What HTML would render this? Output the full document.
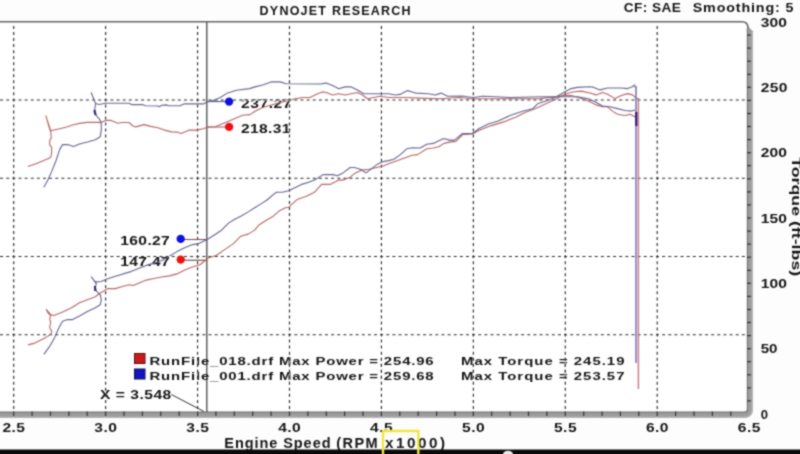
<!DOCTYPE html>
<html><head><meta charset="utf-8"><style>
html,body{margin:0;padding:0;background:#fff;}
body{width:800px;height:454px;overflow:hidden;position:relative;}
svg{position:absolute;left:0;top:0;}
</style></head><body>
<svg width="800" height="454" viewBox="0 0 800 454">
<defs><filter id="bl" x="0" y="0" width="800" height="454" filterUnits="userSpaceOnUse" color-interpolation-filters="sRGB"><feConvolveMatrix order="3" kernelMatrix="1 2 1 2 8 2 1 2 1" divisor="20" edgeMode="duplicate"/></filter></defs>
<g filter="url(#bl)">
<rect x="0" y="0" width="800" height="454" fill="#fdfdfd"/>
<rect x="0" y="22" width="747" height="390" fill="#ffffff"/>
<g stroke="#2a2a2a" stroke-width="1.15" fill="none">
<line x1="13.70" y1="26.03" x2="13.70" y2="411" stroke-dasharray="3,3.03"/><line x1="105.63" y1="26.03" x2="105.63" y2="411" stroke-dasharray="3,3.03"/><line x1="197.56" y1="26.03" x2="197.56" y2="411" stroke-dasharray="3,3.03"/><line x1="289.49" y1="26.03" x2="289.49" y2="411" stroke-dasharray="3,3.03"/><line x1="381.42" y1="26.03" x2="381.42" y2="411" stroke-dasharray="3,3.03"/><line x1="473.35" y1="26.03" x2="473.35" y2="411" stroke-dasharray="3,3.03"/><line x1="565.28" y1="26.03" x2="565.28" y2="411" stroke-dasharray="3,3.03"/><line x1="657.21" y1="26.03" x2="657.21" y2="411" stroke-dasharray="3,3.03"/><line x1="0.1" y1="100.04" x2="747" y2="100.04" stroke-dasharray="3,3.13"/><line x1="0.1" y1="178.28" x2="747" y2="178.28" stroke-dasharray="3,3.13"/><line x1="0.1" y1="256.52" x2="747" y2="256.52" stroke-dasharray="3,3.13"/><line x1="0.1" y1="334.76" x2="747" y2="334.76" stroke-dasharray="3,3.13"/>
</g>
<!-- axis frame -->
<path d="M750,31 L750,408 Q750,415 743,415 L0,415" fill="none" stroke="#9c9c9c" stroke-width="6"/>
<polygon points="747,27 748.6,27 753,31.5 753,32 747,32" fill="#9c9c9c"/>
<path d="M752.2,32 L752.2,409 Q752.2,417.2 744,417.2 L0,417.2" fill="none" stroke="#b2b2b2" stroke-width="1.6"/>
<path d="M747.4,28 L747.4,410 Q747.4,412.2 745,412.2 L0,412.2" fill="none" stroke="#777" stroke-width="1.2"/>
<path d="M0,21.7 L742,21.7 Q748,21.7 748,28" fill="none" stroke="#666" stroke-width="1.6"/>
<g stroke="#333" stroke-width="1.2">
<line x1="747" y1="35.1" x2="751" y2="35.1" /><line x1="747" y1="48.1" x2="751" y2="48.1" /><line x1="747" y1="61.2" x2="751" y2="61.2" /><line x1="747" y1="74.3" x2="751" y2="74.3" /><line x1="747" y1="87.3" x2="751" y2="87.3" /><line x1="747" y1="100.4" x2="751" y2="100.4" /><line x1="747" y1="113.5" x2="751" y2="113.5" /><line x1="747" y1="126.5" x2="751" y2="126.5" /><line x1="747" y1="139.6" x2="751" y2="139.6" /><line x1="747" y1="152.7" x2="751" y2="152.7" /><line x1="747" y1="165.7" x2="751" y2="165.7" /><line x1="747" y1="178.8" x2="751" y2="178.8" /><line x1="747" y1="191.9" x2="751" y2="191.9" /><line x1="747" y1="204.9" x2="751" y2="204.9" /><line x1="747" y1="218.0" x2="751" y2="218.0" /><line x1="747" y1="231.1" x2="751" y2="231.1" /><line x1="747" y1="244.1" x2="751" y2="244.1" /><line x1="747" y1="257.2" x2="751" y2="257.2" /><line x1="747" y1="270.3" x2="751" y2="270.3" /><line x1="747" y1="283.3" x2="751" y2="283.3" /><line x1="747" y1="296.4" x2="751" y2="296.4" /><line x1="747" y1="309.5" x2="751" y2="309.5" /><line x1="747" y1="322.5" x2="751" y2="322.5" /><line x1="747" y1="335.6" x2="751" y2="335.6" /><line x1="747" y1="348.7" x2="751" y2="348.7" /><line x1="747" y1="361.7" x2="751" y2="361.7" /><line x1="747" y1="374.8" x2="751" y2="374.8" /><line x1="747" y1="387.9" x2="751" y2="387.9" /><line x1="747" y1="400.9" x2="751" y2="400.9" /><line x1="13.7" y1="411.5" x2="13.7" y2="416" /><line x1="32.1" y1="411.5" x2="32.1" y2="416" /><line x1="50.5" y1="411.5" x2="50.5" y2="416" /><line x1="68.9" y1="411.5" x2="68.9" y2="416" /><line x1="87.2" y1="411.5" x2="87.2" y2="416" /><line x1="105.6" y1="411.5" x2="105.6" y2="416" /><line x1="124.0" y1="411.5" x2="124.0" y2="416" /><line x1="142.4" y1="411.5" x2="142.4" y2="416" /><line x1="160.8" y1="411.5" x2="160.8" y2="416" /><line x1="179.2" y1="411.5" x2="179.2" y2="416" /><line x1="197.6" y1="411.5" x2="197.6" y2="416" /><line x1="215.9" y1="411.5" x2="215.9" y2="416" /><line x1="234.3" y1="411.5" x2="234.3" y2="416" /><line x1="252.7" y1="411.5" x2="252.7" y2="416" /><line x1="271.1" y1="411.5" x2="271.1" y2="416" /><line x1="289.5" y1="411.5" x2="289.5" y2="416" /><line x1="307.9" y1="411.5" x2="307.9" y2="416" /><line x1="326.3" y1="411.5" x2="326.3" y2="416" /><line x1="344.6" y1="411.5" x2="344.6" y2="416" /><line x1="363.0" y1="411.5" x2="363.0" y2="416" /><line x1="381.4" y1="411.5" x2="381.4" y2="416" /><line x1="399.8" y1="411.5" x2="399.8" y2="416" /><line x1="418.2" y1="411.5" x2="418.2" y2="416" /><line x1="436.6" y1="411.5" x2="436.6" y2="416" /><line x1="455.0" y1="411.5" x2="455.0" y2="416" /><line x1="473.3" y1="411.5" x2="473.3" y2="416" /><line x1="491.7" y1="411.5" x2="491.7" y2="416" /><line x1="510.1" y1="411.5" x2="510.1" y2="416" /><line x1="528.5" y1="411.5" x2="528.5" y2="416" /><line x1="546.9" y1="411.5" x2="546.9" y2="416" /><line x1="565.3" y1="411.5" x2="565.3" y2="416" /><line x1="583.7" y1="411.5" x2="583.7" y2="416" /><line x1="602.1" y1="411.5" x2="602.1" y2="416" /><line x1="620.4" y1="411.5" x2="620.4" y2="416" /><line x1="638.8" y1="411.5" x2="638.8" y2="416" /><line x1="657.2" y1="411.5" x2="657.2" y2="416" /><line x1="675.6" y1="411.5" x2="675.6" y2="416" /><line x1="694.0" y1="411.5" x2="694.0" y2="416" /><line x1="712.4" y1="411.5" x2="712.4" y2="416" /><line x1="730.8" y1="411.5" x2="730.8" y2="416" />
</g>
<!-- cursor -->
<line x1="206.8" y1="22" x2="206.8" y2="412" stroke="#555" stroke-width="1.4"/>
<polyline points="171.3,394.5 204,411.5" fill="none" stroke="#333" stroke-width="1"/>
<line x1="206.8" y1="101.6" x2="229" y2="101.6" stroke="#4a4a90" stroke-width="1"/>
<line x1="206.8" y1="127" x2="229" y2="127" stroke="#a05050" stroke-width="1"/>
<line x1="181" y1="239.5" x2="206.8" y2="239.5" stroke="#904050" stroke-width="1"/>
<line x1="181" y1="260.2" x2="206.8" y2="260.2" stroke="#603030" stroke-width="1"/>
<g font-family="Liberation Sans, sans-serif" font-weight="bold">
<text transform="translate(259.6,15.3) scale(1.0000,1)" x="0" y="0" font-size="12.5" textLength="151.00" lengthAdjust="spacing" fill="#141414">DYNOJET RESEARCH</text><text transform="translate(623.8,11.9) scale(1.0500,1)" x="0" y="0" font-size="13" textLength="54.29" lengthAdjust="spacing" fill="#141414">CF: SAE</text><text transform="translate(692.7,11.9) scale(1.1000,1)" x="0" y="0" font-size="13" textLength="91.55" lengthAdjust="spacing" fill="#141414">Smoothing: 5</text><text transform="translate(760.7,26.799999999999997) scale(1.2500,1)" x="0" y="0" font-size="12.5" textLength="21.04" lengthAdjust="spacing" fill="#141414">300</text><text transform="translate(760.7,92.0) scale(1.2500,1)" x="0" y="0" font-size="12.5" textLength="21.36" lengthAdjust="spacing" fill="#141414">250</text><text transform="translate(760.7,156.9) scale(1.2500,1)" x="0" y="0" font-size="12.5" textLength="21.04" lengthAdjust="spacing" fill="#141414">200</text><text transform="translate(760.7,222.6) scale(1.2500,1)" x="0" y="0" font-size="12.5" textLength="20.96" lengthAdjust="spacing" fill="#141414">150</text><text transform="translate(760.7,288.40000000000003) scale(1.2500,1)" x="0" y="0" font-size="12.5" textLength="20.96" lengthAdjust="spacing" fill="#141414">100</text><text transform="translate(760.7,353.0) scale(1.2081,1)" x="0" y="0" font-size="12.5" textLength="13.91" lengthAdjust="spacing" fill="#141414">50</text><text transform="translate(760.7,418.6) scale(1.0499,1)" x="0" y="0" font-size="12.5" textLength="6.95" lengthAdjust="spacing" fill="#141414">0</text><text transform="translate(2.4,432) scale(1.2500,1)" x="0" y="0" font-size="12.5" textLength="18.08" lengthAdjust="spacing" fill="#141414">2.5</text><text transform="translate(94.3,432) scale(1.2500,1)" x="0" y="0" font-size="12.5" textLength="18.08" lengthAdjust="spacing" fill="#141414">3.0</text><text transform="translate(186.3,432) scale(1.2500,1)" x="0" y="0" font-size="12.5" textLength="18.08" lengthAdjust="spacing" fill="#141414">3.5</text><text transform="translate(278.2,432) scale(1.2500,1)" x="0" y="0" font-size="12.5" textLength="18.08" lengthAdjust="spacing" fill="#141414">4.0</text><text transform="translate(370.1,432) scale(1.2500,1)" x="0" y="0" font-size="12.5" textLength="18.08" lengthAdjust="spacing" fill="#141414">4.5</text><text transform="translate(462.1,432) scale(1.2500,1)" x="0" y="0" font-size="12.5" textLength="18.08" lengthAdjust="spacing" fill="#141414">5.0</text><text transform="translate(554.0,432) scale(1.2500,1)" x="0" y="0" font-size="12.5" textLength="18.08" lengthAdjust="spacing" fill="#141414">5.5</text><text transform="translate(645.9,432) scale(1.2500,1)" x="0" y="0" font-size="12.5" textLength="18.08" lengthAdjust="spacing" fill="#141414">6.0</text><text transform="translate(737.8,432) scale(1.2500,1)" x="0" y="0" font-size="12.5" textLength="18.08" lengthAdjust="spacing" fill="#141414">6.5</text><text transform="translate(224.3,448.3) scale(1.0000,1)" x="0" y="0" font-size="14.5" textLength="106.20" lengthAdjust="spacing" fill="#141414">Engine Speed</text><text transform="translate(336.3,448.3) scale(1.0000,1)" x="0" y="0" font-size="14.5" textLength="41.40" lengthAdjust="spacing" fill="#141414">(RPM</text><text transform="translate(385,448.3) scale(1.0500,1)" x="0" y="0" font-size="14.5" textLength="57.14" lengthAdjust="spacing" fill="#141414">x1000)</text><text transform="translate(792.4,157.2) rotate(90)" font-size="13" textLength="119" lengthAdjust="spacingAndGlyphs" fill="#141414" >Torque (ft-lbs)</text><text transform="translate(241,107.7) scale(1.2500,1)" x="0" y="0" font-size="12.5" textLength="40.40" lengthAdjust="spacing" fill="#141414">237.27</text><text transform="translate(241,133.1) scale(1.2500,1)" x="0" y="0" font-size="12.5" textLength="39.60" lengthAdjust="spacing" fill="#141414">218.31</text><text transform="translate(120.3,245) scale(1.2500,1)" x="0" y="0" font-size="12.5" textLength="39.60" lengthAdjust="spacing" fill="#141414">160.27</text><text transform="translate(120.3,265.6) scale(1.2500,1)" x="0" y="0" font-size="12.5" textLength="39.60" lengthAdjust="spacing" fill="#141414">147.47</text><text transform="translate(100,399) scale(1.2500,1)" x="0" y="0" font-size="12.5" textLength="57.04" lengthAdjust="spacing" fill="#141414">X = 3.548</text><text transform="translate(149.5,364.5) scale(1.3000,1)" x="0" y="0" font-size="11.5" textLength="218.62" lengthAdjust="spacing" fill="#141414">RunFile_018.drf Max Power = 254.96</text><text transform="translate(461,364.5) scale(1.3000,1)" x="0" y="0" font-size="11.5" textLength="125.77" lengthAdjust="spacing" fill="#141414">Max Torque = 245.19</text><text transform="translate(149.5,380) scale(1.3000,1)" x="0" y="0" font-size="11.5" textLength="218.62" lengthAdjust="spacing" fill="#141414">RunFile_001.drf Max Power = 259.68</text><text transform="translate(461,380) scale(1.3000,1)" x="0" y="0" font-size="11.5" textLength="125.77" lengthAdjust="spacing" fill="#141414">Max Torque = 253.57</text>
</g>
<!-- curves -->
<g fill="none" stroke-width="1.1" stroke-linejoin="round">
<polyline points="27.9,166.4 35.9,163.8 43.8,160.5 50.7,157.5 51.7,152.5 51.7,147.6 49.7,144.6 49.7,140.6 51.3,137.7 50.7,131.7 48.7,125.8 46.8,118.8 45.8,115.9 47.5,121.0 49.5,127.0 50.7,130.7 59.7,128.7 67.6,126.8 73.5,124.8 79.5,123.4 87.4,122.4 99.3,122.4 101.0,122.6 105.5,120.4 111.0,120.4 117.9,123.2 122.0,122.5 128.9,122.5 133.0,126.0 135.8,126.9 144.0,124.6 150.9,126.4 157.8,127.7 164.6,130.1 171.5,131.9 177.0,132.1 181.2,133.5 189.4,130.1 196.3,130.1 203.2,128.7 207.3,127.3 215.2,126.8 229.1,120.9 239.6,116.6 242.3,115.2 250.0,114.6 255.0,111.2 262.5,107.5 271.2,105.0 280.0,102.5 288.8,100.6 295.0,98.8 302.5,97.5 310.0,97.5 317.5,93.8 322.5,91.9 326.2,92.5 332.5,95.0 338.8,93.8 345.0,95.0 351.2,93.8 357.5,92.5 362.5,95.0 367.5,98.8 373.8,97.5 380.0,96.2 388.8,97.5 407.5,97.5 420.0,98.1 440.0,98.8 460.0,97.5 470.0,98.8 490.0,98.8 510.0,98.8 540.0,98.6 565.0,95.5 571.2,95.5 580.0,98.0 590.0,101.8 596.2,104.9 602.5,106.8 607.5,106.8 612.5,111.1 617.5,114.2 625.0,115.5 630.0,114.2 635.0,116.8 637.0,118.0" stroke="#b56565"/>
<polyline points="27.9,344.9 33.9,343.4 39.8,340.4 45.8,337.4 50.7,334.4 51.7,331.5 49.7,327.5 50.7,322.5 49.7,318.6 50.7,315.6 47.8,312.6 46.4,309.6 50.7,314.6 53.7,315.6 61.6,312.6 71.5,307.7 79.5,302.7 87.4,299.7 95.3,296.8 100.0,293.2 107.7,288.6 115.4,288.6 123.1,286.2 129.3,284.7 133.1,285.5 138.5,283.2 146.2,280.1 153.9,278.5 161.6,277.0 169.3,275.9 177.0,273.9 184.7,270.1 192.4,267.0 200.0,264.7 208.5,257.8 216.2,255.5 223.9,250.1 233.1,243.9 240.8,236.2 248.6,233.9 254.7,230.1 259.3,224.7 265.5,220.8 273.2,216.2 279.4,210.8 285.5,207.7 288.6,207.3 297.2,199.4 305.8,196.6 314.4,192.3 321.5,184.4 330.1,184.4 338.7,180.1 343.0,180.1 350.2,177.2 354.5,173.6 361.7,170.1 368.8,169.3 377.9,167.2 383.2,165.9 389.8,163.2 397.7,160.6 404.3,157.9 412.3,155.3 417.6,154.6 426.8,148.7 433.4,148.0 438.7,146.7 444.0,143.4 449.3,142.1 455.9,141.4 462.5,134.8 472.5,134.0 478.8,130.6 491.2,125.6 503.8,121.9 516.2,116.9 525.0,112.5 535.0,108.8 547.5,103.1 555.0,99.4 565.0,94.2 573.8,91.8 581.2,91.1 590.0,93.0 596.2,94.9 602.5,92.4 607.5,94.2 615.0,98.6 621.2,95.5 627.5,93.6 632.5,94.9 636.2,98.0 638.5,99.0" stroke="#b56565"/>
<polyline points="43.8,187.2 47.8,180.3 51.7,171.4 55.7,161.5 59.7,149.6 62.6,144.6 67.6,144.6 73.5,146.6 79.5,144.0 87.4,142.0 95.3,139.7 100.3,136.7 101.3,129.7 101.3,122.8 99.3,118.8 97.3,116.9 95.3,113.9 94.3,110.9 95.3,106.0 95.6,103.5 91.2,92.7 95.6,103.5 99.0,104.5 105.5,103.2 128.9,103.2 131.6,104.6 142.6,104.6 145.4,105.7 157.8,106.0 159.1,106.7 161.9,105.3 166.0,104.9 168.8,105.7 179.8,105.7 183.9,103.9 203.2,103.9 207.3,101.9 213.0,100.5 219.8,97.8 227.7,92.9 236.3,90.2 249.5,88.6 255.0,86.9 262.5,85.0 271.2,81.9 280.0,81.9 286.2,83.8 320.0,84.0 326.2,83.1 332.5,85.6 338.8,88.8 345.0,86.9 351.2,86.9 357.5,90.0 363.8,93.8 388.8,93.8 395.0,95.0 400.0,94.4 407.5,90.6 413.8,92.5 416.2,93.1 428.8,93.8 435.0,95.0 441.2,93.1 447.5,96.2 462.5,96.0 472.5,97.5 482.5,96.2 491.2,96.5 510.0,97.5 540.0,96.8 577.5,96.8 587.5,98.6 595.0,101.8 602.5,106.1 610.0,106.8 617.5,108.6 625.0,110.5 631.2,111.1 635.0,109.9" stroke="#646494"/>
<polyline points="43.8,354.3 49.7,346.3 54.7,337.4 57.7,330.5 60.6,324.5 62.6,321.2 67.6,319.6 72.5,319.6 79.5,316.0 87.4,311.6 95.3,307.7 100.3,304.7 101.3,299.7 100.3,294.8 98.3,292.8 96.3,290.8 94.9,287.8 96.3,283.9 94.3,280.9 91.4,276.9 94.3,280.9 96.3,281.9 101.3,281.5 106.2,279.3 115.4,276.2 130.8,271.6 146.2,265.4 161.6,260.8 169.3,256.2 177.0,251.6 184.7,247.7 192.4,244.6 197.7,243.9 207.7,239.3 214.7,234.7 220.8,230.8 228.5,223.1 234.7,219.3 240.8,216.2 248.6,211.6 254.7,207.7 260.9,203.9 267.0,200.0 273.2,194.6 276.3,192.3 282.4,192.3 288.6,190.8 294.3,188.0 301.5,184.4 308.7,182.2 315.8,179.4 323.0,174.6 333.0,174.6 337.3,175.8 343.0,172.9 350.2,167.5 354.5,167.5 360.2,169.3 366.0,172.9 371.7,168.6 377.9,163.9 381.9,161.9 388.5,160.6 393.8,159.3 400.4,154.6 407.0,148.7 412.3,147.8 420.2,148.0 426.8,144.3 433.4,143.4 438.7,140.8 444.0,138.5 449.3,140.1 454.5,140.1 462.5,133.5 472.5,133.5 478.8,128.8 488.8,123.8 497.5,121.2 510.0,115.6 522.5,111.2 532.5,108.8 537.5,103.8 547.5,100.6 555.0,97.5 565.0,91.8 571.2,88.6 577.5,87.4 590.0,86.8 593.8,87.4 600.0,89.9 607.5,88.0 621.2,88.0 627.5,88.6 632.5,86.8 634.4,84.9 635.6,88.0" stroke="#646494"/>
<line x1="636" y1="86" x2="636" y2="363" stroke="#7a7ab8" stroke-width="1.6"/>
<line x1="638.4" y1="98" x2="638.4" y2="389" stroke="#d07080" stroke-width="1.4"/>
<line x1="636.3" y1="112" x2="636.3" y2="126" stroke="#2a1a70" stroke-width="2.2"/>
<line x1="94.5" y1="110" x2="95.5" y2="115" stroke="#2a2a80" stroke-width="2.2"/>
<line x1="94.9" y1="286" x2="95.3" y2="291" stroke="#2a2a80" stroke-width="2.2"/>
</g>
<!-- dots -->
<circle cx="229.1" cy="101.6" r="4.2" fill="#1010e0"/>
<circle cx="229.1" cy="126.9" r="4.2" fill="#ee1010"/>
<circle cx="180.7" cy="238.9" r="4.2" fill="#1010e0"/>
<circle cx="180.7" cy="259.6" r="4.2" fill="#ee1010"/>
<!-- legend squares -->
<rect x="134.5" y="353.5" width="10.5" height="10" fill="#cc1a1a" stroke="#501010" stroke-width="1"/>
<rect x="134.5" y="369" width="10.5" height="10" fill="#1414c0" stroke="#101050" stroke-width="1"/>
<line x1="289.49" y1="98" x2="289.49" y2="108" stroke="#fff" stroke-opacity="0.5" stroke-width="1.2"/><line x1="289.49" y1="98" x2="289.49" y2="108" stroke="#2a2a2a" stroke-width="1.15" stroke-dasharray="3,3.03" stroke-dashoffset="5.64"/><line x1="240" y1="100.04" x2="292" y2="100.04" stroke="#fff" stroke-width="1.2"/><line x1="240" y1="100.04" x2="292" y2="100.04" stroke="#2a2a2a" stroke-width="1.15" stroke-dasharray="3,3.13" stroke-dashoffset="0.83"/><line x1="289.49" y1="123" x2="289.49" y2="134" stroke="#fff" stroke-opacity="0.5" stroke-width="1.2"/><line x1="289.49" y1="123" x2="289.49" y2="134" stroke="#2a2a2a" stroke-width="1.15" stroke-dasharray="3,3.03" stroke-dashoffset="0.49"/><line x1="119" y1="256.52" x2="171" y2="256.52" stroke="#fff" stroke-width="1.2"/><line x1="119" y1="256.52" x2="171" y2="256.52" stroke="#2a2a2a" stroke-width="1.15" stroke-dasharray="3,3.13" stroke-dashoffset="2.43"/><line x1="105.63" y1="389" x2="105.63" y2="400" stroke="#fff" stroke-opacity="0.5" stroke-width="1.2"/><line x1="105.63" y1="389" x2="105.63" y2="400" stroke="#2a2a2a" stroke-width="1.15" stroke-dasharray="3,3.03" stroke-dashoffset="1.17"/><line x1="197.56" y1="355" x2="197.56" y2="382" stroke="#fff" stroke-opacity="0.5" stroke-width="1.2"/><line x1="197.56" y1="355" x2="197.56" y2="382" stroke="#2a2a2a" stroke-width="1.15" stroke-dasharray="3,3.03" stroke-dashoffset="3.35"/><line x1="289.49" y1="355" x2="289.49" y2="382" stroke="#fff" stroke-opacity="0.5" stroke-width="1.2"/><line x1="289.49" y1="355" x2="289.49" y2="382" stroke="#2a2a2a" stroke-width="1.15" stroke-dasharray="3,3.03" stroke-dashoffset="3.35"/><line x1="381.42" y1="355" x2="381.42" y2="382" stroke="#fff" stroke-opacity="0.5" stroke-width="1.2"/><line x1="381.42" y1="355" x2="381.42" y2="382" stroke="#2a2a2a" stroke-width="1.15" stroke-dasharray="3,3.03" stroke-dashoffset="3.35"/><line x1="473.35" y1="355" x2="473.35" y2="382" stroke="#fff" stroke-opacity="0.5" stroke-width="1.2"/><line x1="473.35" y1="355" x2="473.35" y2="382" stroke="#2a2a2a" stroke-width="1.15" stroke-dasharray="3,3.03" stroke-dashoffset="3.35"/><line x1="565.28" y1="355" x2="565.28" y2="382" stroke="#fff" stroke-opacity="0.5" stroke-width="1.2"/><line x1="565.28" y1="355" x2="565.28" y2="382" stroke="#2a2a2a" stroke-width="1.15" stroke-dasharray="3,3.03" stroke-dashoffset="3.35"/>
<!-- bottom bar -->
<rect x="0" y="449.5" width="800" height="4.5" fill="#0a0a0a"/>
<path d="M383,454 L383,431 L418.3,431 L418.3,454" fill="none" stroke="#f2e640" stroke-width="2.4"/>
<ellipse cx="508" cy="454" rx="5" ry="3.2" fill="#eee"/>
</g>
</svg>
</body></html>
